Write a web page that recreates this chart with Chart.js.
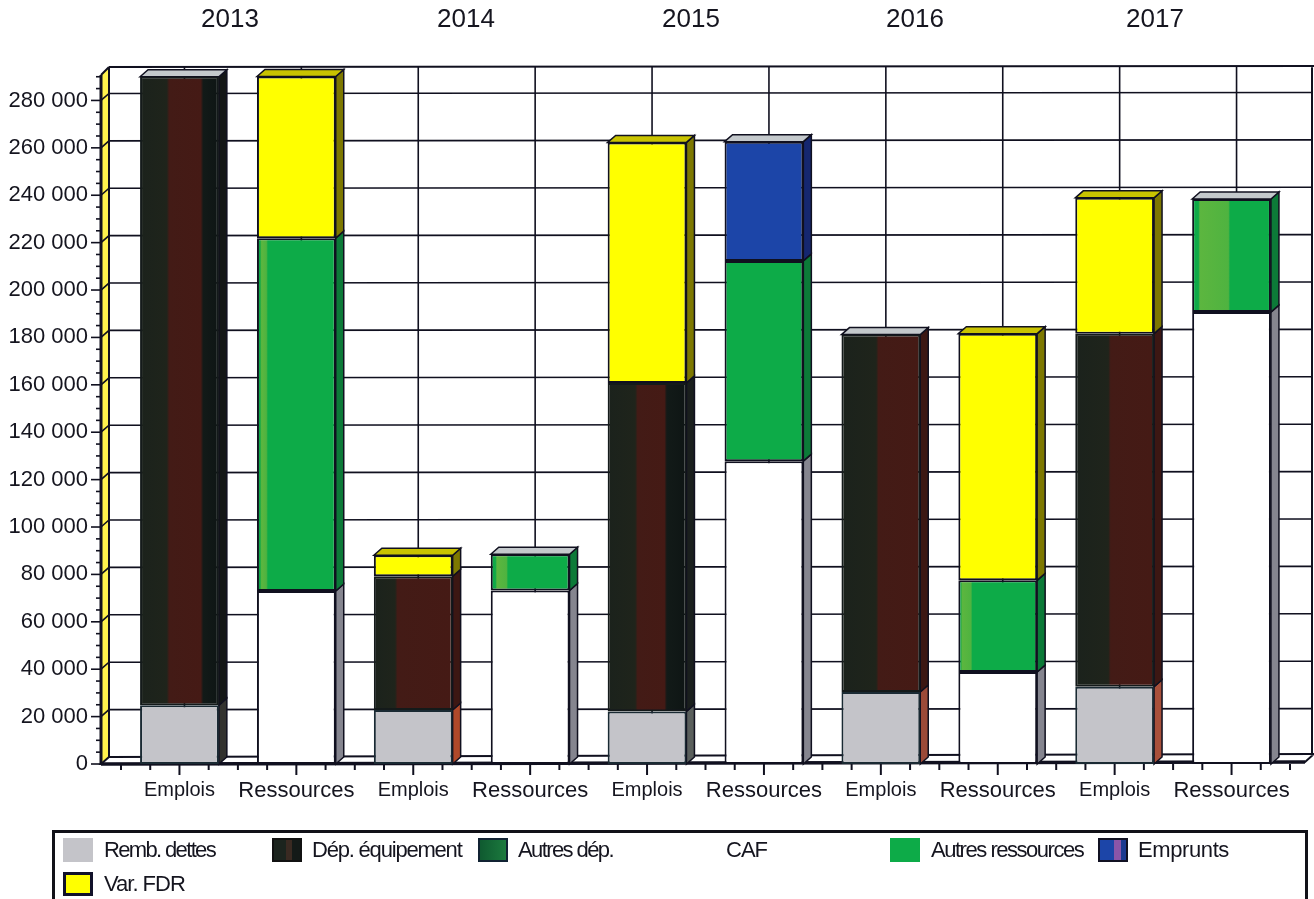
<!DOCTYPE html>
<html>
<head>
<meta charset="utf-8">
<title>Emplois et ressources</title>
<script src="https://cdn.jsdelivr.net/npm/chart.js@4"></script>
<style>
  html, body { margin: 0; padding: 0; background: #fff; overflow: hidden; }
  #wrap { position: relative; width: 1314px; height: 899px; font-family: "Liberation Sans", Arial, sans-serif; color: #15151f; }
  #myChart { position: absolute; left: 0; top: 0; }
  .year { position: absolute; top: 3px; font-size: 26px; transform: translateX(-50%); }
  #legendBox { position: absolute; left: 52px; top: 830px; width: 1250px; height: 66px; border: 3px solid #111118; }
  .swatch { position: absolute; width: 30px; height: 24px; box-sizing: border-box; }
  .legendText { position: absolute; font-size: 22px; white-space: nowrap; line-height: 24px; }
</style>
</head>
<body>
<div id="wrap">
  <canvas id="myChart" width="1314" height="899"></canvas>
</div>
<script>
const categories = ["Emplois", "Ressources", "Emplois", "Ressources", "Emplois", "Ressources", "Emplois", "Ressources", "Emplois", "Ressources"];
const years = ["2013", "2014", "2015", "2016", "2017"];
const yTicks = [0, 20000, 40000, 60000, 80000, 100000, 120000, 140000, 160000, 180000, 200000, 220000, 240000, 260000, 280000];

const rembDettes = [24800, null, 22800, null, 22200, null, 30400, null, 32600, null];
const depEquipement = [265200, null, 56400, null, 138600, null, 150800, null, 149000, null];
const autresDep = [null, null, null, null, null, null, null, null, null, null];
const caf = [null, 73000, null, 73200, null, 127800, null, 38800, null, 190700];
const autresRessources = [null, 148900, null, 15300, null, 84500, null, 38700, null, 47700];
const emprunts = [null, null, null, null, null, 50300, null, null, null, null];
const varFdr = [null, 68200, 8900, null, 101500, null, null, 104100, 57300, null];

// where the brown band sits in each equipment bar (fraction of bar width)
const depBands = { 0: [0.37, 0.8], 2: [0.3, 1], 4: [0.38, 0.75], 6: [0.47, 1], 8: [0.45, 1] };
// scan streaks of lighter green in the "Autres ressources" bars
const greenStreaks = { 1: [0.04, 0.14], 3: [0.06, 0.22], 5: [0, 0], 7: [0.03, 0.18], 9: [0.08, 0.48] };
const rembSides = { 0: "#33332f", 2: "#b0492a", 4: "#5a5f5c", 6: "#9c4a38", 8: "#a8503a" };
const depSides = { 0: "#141716", 2: "#3c1713", 4: "#1a1f1d", 6: "#3c1713", 8: "#3c1713" };
const yearX = [230, 466, 691, 915, 1155];
const legendSwatchX = [8, 217, 423, null, 835, 1043, 8];
const legendTextX = [49, 257, 463, 671, 876, 1083, 49];
const legendTracking = [-1.65, -1.2, -1.6, -1, -1.47, -0.4, -1];

const LINE = "#10101f";
const BAR_W = 79;
const DEPTH_X = 8;
const DEPTH_Y = 7;

function barGradient(context) {
  const x = context.chart.scales.x;
  const c = x.getPixelForValue(context.dataIndex);
  return context.chart.ctx.createLinearGradient(c - BAR_W / 2, 0, c + BAR_W / 2, 0);
}

function depFill(context) {
  const x = context.chart.scales.x;
  if (!x || !x.width) return "#2a1a18";
  const band = depBands[context.dataIndex] || [0.4, 1];
  const g = barGradient(context);
  g.addColorStop(0, "#1b221c");
  g.addColorStop(Math.max(band[0] - 0.03, 0), "#1f241b");
  g.addColorStop(band[0], "#431b16");
  g.addColorStop(Math.max(band[1] - 0.03, band[0]), "#451a15");
  g.addColorStop(band[1], band[1] < 1 ? "#121a18" : "#451a15");
  g.addColorStop(1, band[1] < 1 ? "#0e1514" : "#451a15");
  return g;
}

function greenFill(context) {
  const x = context.chart.scales.x;
  if (!x || !x.width) return "#0dab48";
  const s = greenStreaks[context.dataIndex] || [0, 0];
  if (s[1] === 0) return "#0dab48";
  const g = barGradient(context);
  g.addColorStop(0, "#0dab48");
  g.addColorStop(s[0], "#0fa848");
  g.addColorStop(s[0] + 0.02, "#5cb63f");
  g.addColorStop(s[1] - 0.02, "#4fb340");
  g.addColorStop(s[1], "#0dab48");
  g.addColorStop(1, "#0dab48");
  return g;
}

const sideColors = ["#b0492a", "#1c1a18", "#0f6030", "#85858f", "#0c7a38", "#152770", "#7d7800"];
const topColors = ["#c4c6cc", "#c4c9cc", "#c4c9cc", "#c4c9cc", "#c4c9cc", "#c4c9cc", "#c9c300"];

function poly(ctx, pts, fill, stroke) {
  ctx.beginPath();
  pts.forEach((p, i) => (i ? ctx.lineTo(p[0], p[1]) : ctx.moveTo(p[0], p[1])));
  ctx.closePath();
  if (fill) { ctx.fillStyle = fill; ctx.fill(); }
  if (stroke) { ctx.strokeStyle = stroke; ctx.stroke(); }
}

// back wall, floor, ticks and bar depth: Chart.js has no 3D bars
const depthPlugin = {
  id: "depth",
  beforeDatasetsDraw(chart) {
    const { ctx, scales: { x, y } } = chart;
    const zero = y.getPixelForValue(0);
    const top = y.getPixelForValue(y.max);
    const axisX = 101;
    const wallX = 109;
    const rightX = 1312;
    ctx.save();

    // left wall
    poly(ctx, [[axisX, zero], [axisX, top + 3], [wallX, 67], [wallX, zero - DEPTH_Y]], "#fff34d");
    ctx.lineWidth = 2;
    ctx.strokeStyle = LINE;
    ctx.beginPath();
    ctx.moveTo(wallX, 67);
    ctx.lineTo(1314, 66);
    ctx.moveTo(wallX, 67);
    ctx.lineTo(wallX, zero - DEPTH_Y);
    ctx.moveTo(axisX, top + 3);
    ctx.lineTo(wallX, 67);
    ctx.moveTo(rightX, 66);
    ctx.lineTo(rightX, zero - DEPTH_Y - 3);
    ctx.stroke();
    ctx.lineWidth = 3;
    ctx.beginPath();
    ctx.moveTo(axisX, top + 3);
    ctx.lineTo(axisX, zero + 1);
    ctx.stroke();

    // horizontal grid
    ctx.lineWidth = 1.6;
    yTicks.forEach(v => {
      const py = y.getPixelForValue(v);
      if (v > 0) {
        ctx.beginPath();
        ctx.moveTo(axisX, py);
        ctx.lineTo(wallX, py - DEPTH_Y);
        ctx.lineTo(rightX, py - DEPTH_Y - 1);
        ctx.stroke();
      }
      ctx.beginPath();
      ctx.moveTo(axisX - 10, py);
      ctx.lineTo(axisX, py);
      ctx.stroke();
    });
    for (let v = 5000; v < y.max; v += 5000) {
      if (v % 20000 === 0) continue;
      const py = y.getPixelForValue(v);
      ctx.beginPath();
      ctx.moveTo(axisX - 5, py);
      ctx.lineTo(axisX, py);
      ctx.stroke();
    }

    // vertical grid
    categories.forEach((c, i) => {
      const px = x.getPixelForValue(i) + 5;
      ctx.beginPath();
      ctx.moveTo(px, 67);
      ctx.lineTo(px, zero - DEPTH_Y);
      ctx.stroke();
    });

    // floor
    ctx.lineWidth = 2;
    poly(ctx, [[axisX, zero], [wallX, zero - DEPTH_Y], [1314, zero - DEPTH_Y - 3], [1305, zero - 2]], "#fff", LINE);
    ctx.lineWidth = 3.5;
    ctx.beginPath();
    ctx.moveTo(axisX, zero);
    ctx.lineTo(1305, zero - 2);
    ctx.stroke();

    // x ticks
    ctx.lineWidth = 2;
    const step = x.getPixelForValue(1) - x.getPixelForValue(0);
    const firstEdge = x.getPixelForValue(0) - step / 2;
    for (let n = 0; n <= categories.length * 4; n++) {
      const px = firstEdge + n * step / 4;
      ctx.beginPath();
      ctx.moveTo(px, zero);
      ctx.lineTo(px, zero + (n % 4 === 2 ? 11 : 6));
      ctx.stroke();
    }

    // bar sides, back to front so that they stack cleanly
    ctx.lineWidth = 1.5;
    chart.data.datasets.forEach((ds, di) => {
      const meta = chart.getDatasetMeta(di);
      meta.data.forEach((el, i) => {
        if (ds.data[i] === null) return;
        const r = el.x + el.width / 2;
        let side = sideColors[di];
        if (di === 0) side = rembSides[i];
        if (di === 1) side = depSides[i];
        poly(ctx, [[r, el.y], [r + DEPTH_X, el.y - DEPTH_Y], [r + DEPTH_X, el.base - DEPTH_Y], [r, el.base]], side, LINE);
        const isTop = chart.data.datasets.slice(di + 1).every(d => d.data[i] === null);
        if (isTop) {
          const l = el.x - el.width / 2;
          poly(ctx, [[l, el.y], [l + DEPTH_X, el.y - DEPTH_Y], [r + DEPTH_X, el.y - DEPTH_Y], [r, el.y]], topColors[di], LINE);
        }
      });
    });
    ctx.restore();
  }
};

function barSet(label, data, backgroundColor, borderColor) {
  return { label, data, backgroundColor, borderColor, borderWidth: 2, borderSkipped: false, clip: false };
}

new Chart(document.getElementById("myChart"), {
  type: "bar",
  data: {
    labels: categories,
    datasets: [
      barSet("Remb. dettes", rembDettes, "#c4c4c9", "#1a2a33"),
      barSet("Dép. équipement", depEquipement, depFill, "#141a1a"),
      barSet("Autres dép.", autresDep, "#14703a", LINE),
      barSet("CAF", caf, "#ffffff", LINE),
      barSet("Autres ressources", autresRessources, greenFill, LINE),
      barSet("Emprunts", emprunts, "#1c45a8", LINE),
      barSet("Var. FDR", varFdr, "#ffff00", LINE),
    ],
  },
  plugins: [depthPlugin],
  options: {
    responsive: false,
    animation: false,
    barPercentage: 0.674,
    categoryPercentage: 1,
    layout: { padding: { top: 72, right: 24 } },
    plugins: { legend: { display: false }, tooltip: { enabled: false } },
    scales: {
      x: {
        stacked: true,
        grid: { display: false },
        border: { display: false },
        afterFit: scale => { scale.height = 135; },
        ticks: {
          autoSkip: false,
          maxRotation: 0,
          padding: 6,
          color: "#15151f",
          font: ctx => ({ family: "Liberation Sans", size: ctx.index % 2 ? 22 : 20 }),
        },
      },
      y: {
        stacked: true,
        min: 0,
        max: 292000,
        grid: { display: false },
        border: { display: false },
        afterFit: scale => { scale.width = 121; },
        afterBuildTicks: scale => { scale.ticks = yTicks.map(value => ({ value })); },
        ticks: {
          padding: 25,
          color: "#15151f",
          font: { family: "Liberation Sans", size: 22 },
          callback: value => String(value).replace(/\B(?=(\d{3})+$)/g, " "),
        },
      },
    },
  },
});

// year captions and legend as plain text
const wrap = document.getElementById("wrap");
years.forEach((year, i) => {
  const d = document.createElement("div");
  d.className = "year";
  d.style.left = yearX[i] + "px";
  d.textContent = year;
  wrap.appendChild(d);
});

const legendLabels = ["Remb. dettes", "Dép. équipement", "Autres dép.", "CAF", "Autres ressources", "Emprunts", "Var. FDR"];
const legendFills = [
  "background:#c4c4c9",
  "background:linear-gradient(90deg,#1c241e 0 45%,#3a2a22 45% 70%,#141a18 70%);border:2px solid #111",
  "background:linear-gradient(90deg,#0f5a30,#1c7a3e);border:2px solid #123",
  "",
  "background:#0dab48",
  "background:linear-gradient(90deg,#1c45a8 0 55%,#8a55a8 55% 80%,#1c3a90 80%);border:2px solid #112",
  "background:#ffff00;border:3px solid #12122a",
];
const box = document.createElement("div");
box.id = "legendBox";
wrap.appendChild(box);
legendLabels.forEach((label, i) => {
  const rowTop = i === 6 ? 39 : 5;
  if (legendSwatchX[i] !== null) {
    const s = document.createElement("div");
    s.className = "swatch";
    s.style.cssText = "left:" + legendSwatchX[i] + "px;top:" + rowTop + "px;" + legendFills[i];
    box.appendChild(s);
  }
  const t = document.createElement("div");
  t.className = "legendText";
  t.style.left = legendTextX[i] + "px";
  t.style.top = rowTop + "px";
  t.style.letterSpacing = legendTracking[i] + "px";
  t.textContent = label;
  box.appendChild(t);
});
</script>
</body>
</html>
